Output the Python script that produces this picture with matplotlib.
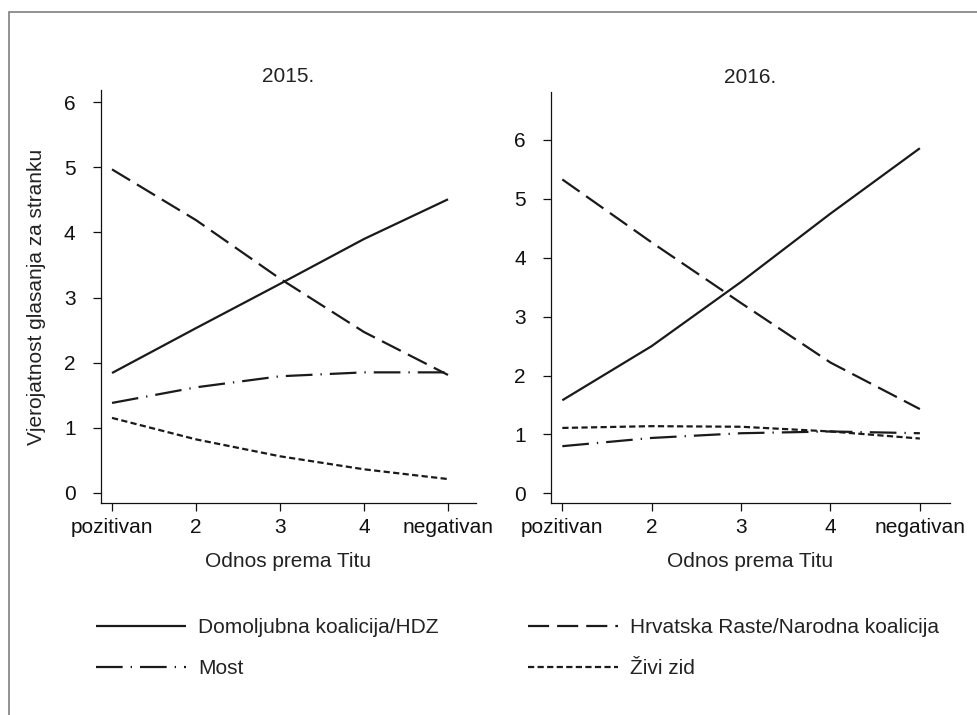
import matplotlib
matplotlib.use("Agg")
import matplotlib.pyplot as plt
from matplotlib.patches import Rectangle
from matplotlib.lines import Line2D

plt.rcParams['font.family'] = ['Liberation Sans', 'DejaVu Sans']

# ---- data ----
x_pos = [1, 2, 3, 4, 5]
x_labels = ["pozitivan", "2", "3", "4", "negativan"]
y_ticks = [0, 1, 2, 3, 4, 5, 6]
titles = ["2015.", "2016."]
series_names = ["Domoljubna koalicija/HDZ", "Most",
                "Hrvatska Raste/Narodna koalicija", "Živi zid"]

hdz_2015 = [1.84, 2.53, 3.21, 3.90, 4.51]
hr_2015 = [4.97, 4.19, 3.29, 2.47, 1.81]
most_2015 = [1.38, 1.62, 1.79, 1.85, 1.85]
zz_2015 = [1.15, 0.82, 0.56, 0.36, 0.21]

hdz_2016 = [1.58, 2.50, 3.59, 4.75, 5.86]
hr_2016 = [5.33, 4.26, 3.23, 2.22, 1.43]
most_2016 = [0.80, 0.94, 1.02, 1.05, 1.02]
zz_2016 = [1.11, 1.14, 1.13, 1.05, 0.93]

xlabel = "Odnos prema Titu"
ylabel = "Vjerojatnost glasanja za stranku"

# ---- styles ----
col = "#1a1a1a"
lw = 1.6
styles = [
    dict(linestyle="-"),
    dict(linestyle=(0, (12, 3.6, 0.6, 3.6))),
    dict(linestyle=(0, (9.5, 3.6))),
    dict(linestyle=(0, (2.8, 1.5))),
]
FS = 15

fig = plt.figure(figsize=(9.77, 7.15), dpi=100)

ax1 = fig.add_axes([100.5 / 977, 1 - 503 / 715, (476 - 100.5) / 977, (503 - 90) / 715])
ax2 = fig.add_axes([550.7 / 977, 1 - 503.3 / 715, (950 - 550.7) / 977, (503.3 - 91.7) / 715])

data = [
    [hdz_2015, most_2015, hr_2015, zz_2015],
    [hdz_2016, most_2016, hr_2016, zz_2016],
]
ylims = [(-0.158, 6.19), (-0.17, 6.82)]
xlims = [(0.863, 5.333), (0.870, 5.337)]

for ax, d, yl, xl, t in zip([ax1, ax2], data, ylims, xlims, titles):
    for vals, st in zip(d, styles):
        ax.plot(x_pos, vals, color=col, lw=lw, solid_capstyle="butt",
                dash_capstyle="butt", **st)
    ax.set_xlim(*xl)
    ax.set_ylim(*yl)
    ax.set_xticks(x_pos)
    ax.set_xticklabels(x_labels)
    ax.set_yticks(y_ticks)
    for s in ["top", "right"]:
        ax.spines[s].set_visible(False)
    for s in ["left", "bottom"]:
        ax.spines[s].set_linewidth(0.9)
        ax.spines[s].set_color("#111111")
    ax.tick_params(axis="both", direction="out", length=6, width=0.9,
                   labelsize=FS, colors="#111111")
    ax.tick_params(axis="y", pad=12)
    ax.tick_params(axis="x", pad=4.5)
    ax.set_title(t, fontsize=FS, pad=6, color="#222222")
    ax.set_xlabel(xlabel, fontsize=FS, color="#222222")
    ax.xaxis.set_label_coords(0.5, -0.118)

ax1.set_ylabel(ylabel, fontsize=FS, color="#222222")
ax1.yaxis.set_label_coords(-0.145, 0.5)

handles = [Line2D([], [], color=col, lw=lw, solid_capstyle="butt",
                  dash_capstyle="butt", **st) for st in styles]
fig.legend(handles, series_names, loc="upper left",
           bbox_to_anchor=(96 / 977, 0.135), ncol=2, frameon=False,
           fontsize=FS, handlelength=4.3, handletextpad=0.6,
           labelspacing=1.05, columnspacing=4.3, borderpad=0,
           borderaxespad=0, labelcolor="#222222")

fig.add_artist(Rectangle((9 / 977, -0.1), 1.2, 1 - 12 / 715 + 0.1,
                         transform=fig.transFigure, fill=False,
                         edgecolor="#7f7f7f", lw=1.2))

fig.savefig("out.png", dpi=100)
